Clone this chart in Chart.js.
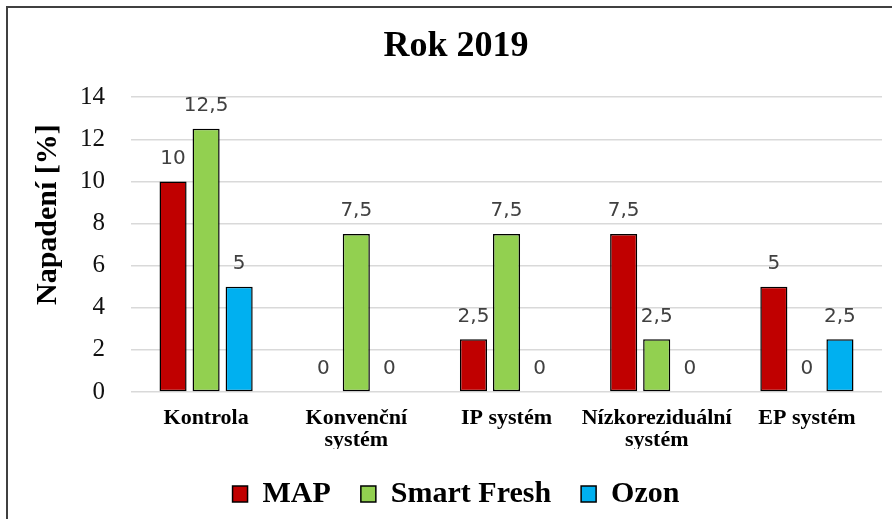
<!DOCTYPE html>
<html>
<head>
<meta charset="utf-8">
<script src="https://cdn.jsdelivr.net/npm/chart.js@4.4.1/dist/chart.umd.min.js"></script>
<style>
    html, body { margin: 0; padding: 0; background: #fff; }
    #wrap { width: 892px; height: 519px; }
</style>
</head>
<body>
<div id="wrap"><canvas id="myChart" width="892" height="519"></canvas></div>
<script>
// data
var categories = ['Kontrola', ['Konvenční', 'systém'], 'IP systém', ['Nízkoreziduální', 'systém'], 'EP systém'];
var mapValues = [10, 0, 2.5, 7.5, 5];
var smartFreshValues = [12.5, 7.5, 7.5, 2.5, 0];
var ozonValues = [5, 0, 0, 0, 2.5];
var yTicks = [0, 2, 4, 6, 8, 10, 12, 14];

var serif = '"Liberation Serif", "Times New Roman", serif';

// values above the bars, with decimal comma
var valueLabels = {
    id: 'valueLabels',
    afterDatasetsDraw: function(chart) {
        var ctx = chart.ctx;
        ctx.save();
        ctx.font = '20px "DejaVu Sans", sans-serif';
        ctx.fillStyle = '#404040';
        ctx.textAlign = 'center';
        ctx.textBaseline = 'middle';
        chart.data.datasets.forEach(function(ds, i) {
            chart.getDatasetMeta(i).data.forEach(function(bar, j) {
                var txt = String(ds.data[j]).replace('.', ',');
                ctx.fillText(txt, bar.x, bar.y - 23);
            });
        });
        ctx.restore();
    }
};

// white page and the chart frame
var frame = {
    id: 'frame',
    beforeDraw: function(chart) {
        var ctx = chart.ctx;
        ctx.save();
        ctx.fillStyle = '#fff';
        ctx.fillRect(0, 0, chart.width, chart.height);
        ctx.restore();
    },
    afterDraw: function(chart) {
        var ctx = chart.ctx;
        ctx.save();
        ctx.strokeStyle = '#404040';
        ctx.lineWidth = 2;
        ctx.strokeRect(7, 7, chart.width + 20, chart.height + 20);
        ctx.restore();
    }
};

new Chart(document.getElementById('myChart'), {
    type: 'bar',
    data: {
        labels: categories,
        datasets: [{
            label: 'MAP',
            data: mapValues,
            backgroundColor: '#C00000'
        }, {
            label: 'Smart Fresh',
            data: smartFreshValues,
            backgroundColor: '#92D050'
        }, {
            label: 'Ozon',
            data: ozonValues,
            backgroundColor: '#00B0F0'
        }]
    },
    options: {
        responsive: false,
        animation: false,
        devicePixelRatio: 1,
        layout: {
            padding: { left: 30, right: 10, top: 0, bottom: 0 }
        },
        datasets: {
            bar: {
                categoryPercentage: 0.66,
                barPercentage: 0.82,
                borderColor: '#000',
                borderWidth: 1.5,
                borderSkipped: false
            }
        },
        plugins: {
            title: {
                display: true,
                text: 'Rok 2019',
                color: '#000',
                font: { family: serif, size: 36, weight: 'bold' },
                padding: { top: 25, bottom: 29 }
            },
            legend: {
                position: 'bottom',
                labels: {
                    color: '#000',
                    font: { family: serif, size: 30, weight: 'bold' },
                    boxWidth: 15,
                    boxHeight: 16,
                    padding: 30
                }
            },
            tooltip: { enabled: false }
        },
        scales: {
            x: {
                grid: { display: false, drawTicks: false },
                border: { display: false },
                ticks: {
                    color: '#000',
                    padding: 15,
                    maxRotation: 0,
                    autoSkip: false,
                    font: { family: serif, size: 22, weight: 'bold', lineHeight: 1 }
                },
                afterFit: function(scale) {
                    scale.height = 57;
                }
            },
            y: {
                min: 0,
                max: 14,
                afterBuildTicks: function(scale) {
                    scale.ticks = yTicks.map(function(v) { return { value: v }; });
                },
                grid: { color: '#d9d9d9', lineWidth: 1.5, drawTicks: false },
                border: { display: false },
                ticks: {
                    color: '#111',
                    padding: 26,
                    font: { family: serif, size: 25 }
                },
                title: {
                    display: true,
                    text: '\u2003\u2003Napadení [%]',
                    color: '#000',
                    font: { family: serif, size: 30, weight: 'bold' },
                    padding: { top: 0, bottom: 0 }
                },
                afterFit: function(scale) {
                    scale.width = 101;
                }
            }
        }
    },
    plugins: [frame, valueLabels]
});
</script>
</body>
</html>
